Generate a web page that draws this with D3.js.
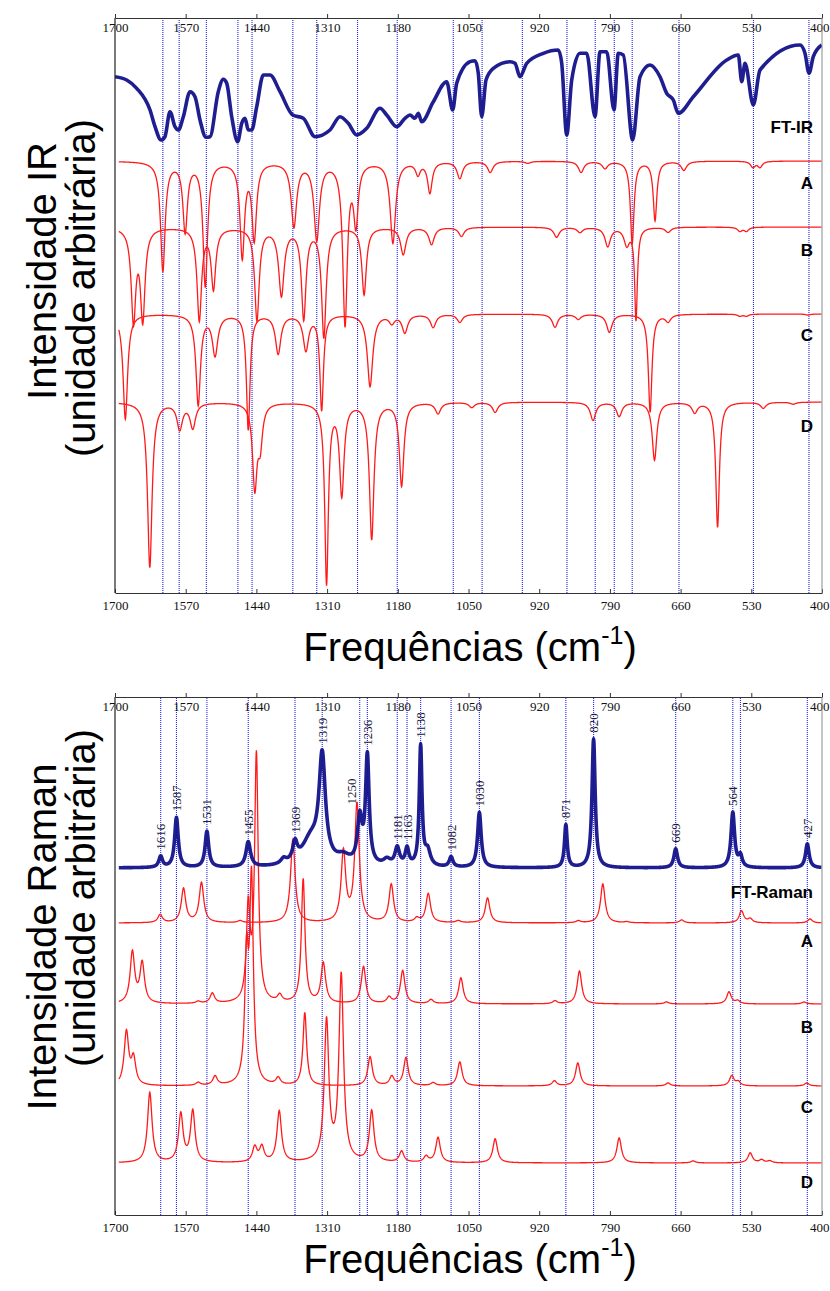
<!DOCTYPE html>
<html>
<head>
<meta charset="utf-8">
<script src="https://cdn.jsdelivr.net/npm/d3@7/dist/d3.min.js"></script>
<style>
  body { margin: 0; background: #fff; }
  svg { display: block; }
</style>
</head>
<body>
<div id="chart"></div>
<script>
// axis tick labels (cm-1), same on both panels
const tickValues = [1700, 1570, 1440, 1310, 1180, 1050, 920, 790, 660, 530, 400];

// FT-IR observed trace: [wavenumber, intensity]
const irObserved = [
  [1700, 516.3], [1678.5, 513], [1660.1, 504.7], [1635.6, 483], [1626.4, 466.3], [1615.4, 453],
  [1608.1, 456.3], [1598.9, 481.3], [1589.7, 466.3], [1583.6, 463], [1574.4, 476.3], [1562.1, 501.3],
  [1552.9, 496.3], [1543.7, 473], [1532.7, 455.7], [1525.3, 456.3], [1510.1, 501.3], [1500.9, 513.7],
  [1494.6, 509.7], [1485.4, 476.3], [1474.4, 451.3], [1467, 469.7], [1461, 474.7], [1454.9, 463],
  [1448.6, 463], [1439.4, 486.3], [1427.3, 518], [1415, 518], [1396.6, 501.3], [1373.3, 478],
  [1353.8, 474.7], [1332.2, 456.3], [1304.7, 463], [1286.3, 476.3], [1271, 469.7], [1255.6, 458],
  [1237.2, 464.7], [1212.7, 484.7], [1200.4, 478], [1182, 466.3], [1166.8, 474.7], [1157.6, 478],
  [1148.5, 474.7], [1142.3, 479.7], [1136.1, 471.3], [1114.7, 491.3], [1090.1, 511.3], [1079.1, 483],
  [1071.7, 509.7], [1047.2, 531.3], [1038, 532.3], [1032, 519.7], [1025.7, 476.3], [1017.8, 513],
  [1004.4, 524.7], [973.7, 531.3], [964.5, 529.7], [955.3, 516.3], [943, 529.7], [912.5, 539.7],
  [884.9, 543], [878.6, 529.7], [869.4, 458], [860.2, 513], [845, 539.7], [832.6, 539.7],
  [817.4, 476.3], [808.2, 541.3], [795.9, 541.3], [782.5, 483], [774.6, 539.7], [765.4, 538],
  [748.1, 453], [734.6, 516.3], [716.3, 528], [697.9, 516.3], [685.6, 499.7], [673.4, 493],
  [664.2, 479.7], [636.6, 496.3], [575.2, 533], [553.9, 538], [547.6, 511.3], [541.6, 529.7],
  [526.3, 488], [514, 523], [440.4, 548], [431.3, 539.7], [423.9, 519.7], [416, 536.3], [400.5, 548]
];

// calculated IR bands: [wavenumber, depth, half width]
const irA = [
  [1612, 109, 5], [1571, 69, 5], [1534, 124, 5], [1466, 94, 5], [1444, 76, 5], [1371, 64, 6],
  [1329, 77, 6], [1277, 161, 5], [1257, 59, 5], [1189, 81, 6], [1143, 12, 5], [1121, 31, 5],
  [1066, 17, 6], [1010, 11, 6], [941, 2, 6], [843, 11, 6], [799, 7, 6], [749, 82, 4],
  [707, 59, 4], [654, 9, 6], [527, 6, 5], [514, 6, 5]
];
const irB = [
  [1666, 92, 5], [1649, 90, 5], [1545, 92, 5], [1519, 60, 5], [1439, 92, 5], [1394, 67, 6],
  [1353, 90, 5], [1316, 109, 5], [1242, 67, 5], [1170, 27, 6], [1118, 17, 6], [1063, 9, 6],
  [888, 10, 6], [845, 5, 6], [794, 19, 6], [759, 17, 6], [742, 92, 3], [683, 5, 6],
  [551, 4, 5], [539, 4, 5]
];
const irC = [
  [1681, 105, 5], [1547, 90, 5], [1516, 40, 6], [1455, 115, 4], [1400, 39, 6], [1349, 35, 6],
  [1320, 95, 4], [1231, 72, 6], [1191, 8, 6], [1167, 18, 6], [1115, 13, 6], [1066, 8, 6],
  [891, 13, 6], [848, 5, 6], [791, 18, 6], [716, 98, 4], [683, 7, 6], [551, 2, 5],
  [539, 2, 5], [426, 1, 5]
];
const irD = [
  [1636, 165, 5], [1581, 26, 6], [1557, 25, 6], [1443, 83, 5], [1433, 38, 5], [1311, 180, 4],
  [1283, 91, 5], [1228, 136, 5], [1173, 83, 5], [1106, 11, 6], [1044, 5, 6], [1001, 10, 6],
  [821, 18, 6], [773, 14, 6], [708, 58, 5], [634, 10, 6], [592, 125, 4], [508, 6, 6],
  [453, 2, 6]
];
const irNames = ["A", "B", "C", "D"];
const irBaselines = [432, 366, 279, 191];

// reference lines on the IR panel
const irLines = [1612, 1582, 1532, 1474, 1448, 1373, 1329, 1254, 1181, 1078, 1025, 951, 869, 817, 782, 749, 663, 526, 424];

// FT-Raman observed bands: [wavenumber, height, half width]
const ramanObserved = [
  [1616, 11, 4], [1587, 50, 4], [1531, 36, 4], [1455, 25, 5], [1390, 5, 6], [1369, 18, 5],
  [1340, 26, 20], [1319, 104, 7], [1280, 8, 15], [1250, 45, 5], [1236, 108, 4], [1200, 6, 8],
  [1181, 18, 5], [1163, 17, 4], [1138, 120, 3], [1125, 15, 6], [1082, 10, 4], [1030, 55, 4],
  [871, 43, 3], [820, 129, 3.5], [669, 19, 4], [564, 55, 4], [550, 11, 4], [427, 24, 4]
];
const ramanBaseline = 347;
const ramanLabels = [1616, 1587, 1531, 1455, 1369, 1319, 1250, 1236, 1181, 1163, 1138, 1082, 1030, 871, 820, 669, 564, 427];
const ramanLines = [1616, 1587, 1531, 1455, 1369, 1319, 1250, 1236, 1181, 1163, 1138, 1082, 1030, 871, 820, 669, 564, 550, 427];

// calculated Raman bands: [wavenumber, height, half width]
const ramanA = [
  [1617, 8, 5], [1574, 34, 5], [1541, 40, 5], [1470, 2, 5], [1373, 83, 5], [1280, 70, 5],
  [1255, 118, 5], [1192, 38, 5], [1145, 4, 5], [1124, 29, 5], [1069, 2, 5], [1015, 25, 5],
  [848, 2, 5], [803, 39, 5], [759, 1, 5], [658, 3, 5], [548, 12, 5], [532, 4, 5], [422, 4, 5]
];
const ramanB = [
  [1668, 51, 5], [1650, 40, 5], [1547, 2, 5], [1521, 10, 5], [1455, 91, 4], [1440, 247, 4],
  [1397, 7, 5], [1354, 124, 4], [1317, 40, 5], [1243, 37, 5], [1196, 6, 5], [1171, 33, 5],
  [1119, 4, 5], [1064, 26, 5], [891, 3, 5], [846, 33, 5], [686, 2, 5], [571, 12, 5],
  [555, 3, 5], [433, 2, 5]
];
const ramanC = [
  [1679, 53, 5], [1666, 26, 5], [1547, 3, 5], [1516, 9, 5], [1458, 120, 4], [1449, 200, 4],
  [1400, 7, 5], [1351, 73, 4], [1231, 29, 5], [1191, 9, 5], [1165, 28, 5], [1115, 3, 5],
  [1066, 24, 5], [892, 5, 5], [849, 23, 5], [683, 3, 5], [566, 10, 5], [554, 4, 5], [428, 3, 5]
];
const ramanD = [
  [1636, 70, 5], [1579, 48, 5], [1557, 51, 5], [1443, 15, 5], [1430, 15, 5], [1398, 51, 5],
  [1311, 140, 5], [1284, 186, 5], [1228, 51, 5], [1173, 11, 5], [1128, 6, 5], [1106, 25, 5],
  [1001, 24, 5], [773, 25, 5], [637, 2, 5], [532, 10, 5], [511, 3, 5], [496, 2, 5]
];
const ramanNames = ["A", "B", "C", "D"];
const ramanBaselines = [292, 211, 129, 52];

// ---------------------------------------------------------------

const width = 830, height = 1291;
const svg = d3.select("#chart").append("svg")
  .attr("width", width).attr("height", height);

const x = d3.scaleLinear().domain([1700, 400]).range([115, 822]);

// builds a trace from a band list (sign -1 = absorption dips)
function bandTrace(bands, base, sign) {
  const pts = [];
  for (let w = 1693; w >= 401; w -= 0.5) {
    let s = 0;
    bands.forEach(function(b) {
      const d = (w - b[0]) / b[2];
      s += b[1] / (1 + d * d);
    });
    pts.push([w, base + sign * s]);
  }
  return pts;
}

function drawPanel(cfg) {
  const y = d3.scaleLinear().domain([0, cfg.bottom - cfg.top]).range([cfg.bottom, cfg.top]);
  const g = svg.append("g");

  // clip
  const clipId = "clip" + cfg.id;
  svg.append("clipPath").attr("id", clipId).append("rect")
    .attr("x", 115).attr("y", cfg.axisTop).attr("width", 707).attr("height", cfg.bottom - cfg.axisTop);

  // dotted reference lines (dots kept on even rows)
  g.selectAll("line.ref").data(cfg.lines).enter().append("line")
    .attr("class", "ref")
    .attr("x1", d => x(d)).attr("x2", d => x(d))
    .attr("y1", cfg.axisTop + (cfg.axisTop % 2)).attr("y2", cfg.bottom)
    .style("stroke", "#2424ff").style("stroke-width", 1.1)
    .style("stroke-dasharray", "1,1");

  const line = d3.line().x(d => x(d[0])).y(d => y(d[1]));
  const plot = g.append("g").attr("clip-path", `url(#${clipId})`);

  // calculated traces
  cfg.calc.forEach(function(c) {
    plot.append("path")
      .attr("d", line(bandTrace(c.bands, c.base, cfg.sign)))
      .attr("fill", "none").attr("stroke", "#ff1a1a").attr("stroke-width", 1.3);
  });

  // observed trace
  plot.append("path")
    .attr("d", d3.line().x(d => x(d[0])).y(d => y(d[1])).curve(d3.curveMonotoneX)(cfg.observed))
    .attr("fill", "none").attr("stroke", "#12128a").attr("stroke-width", 3.6)
    .attr("stroke-linejoin", "round").attr("opacity", 0.95);

  // axes
  const axis = d3.axisBottom(x).tickValues(tickValues).tickFormat(d3.format("d"))
    .tickSizeInner(-4).tickSizeOuter(0).tickPadding(7);
  [cfg.axisTop, cfg.bottom].forEach(function(ay, i) {
    const a = g.append("g").attr("transform", `translate(0,${ay})`).call(axis);
    a.select(".domain").attr("stroke", "#333");
    a.selectAll(".tick line").attr("stroke", "#333");
    a.selectAll("text").attr("font-family", "'Liberation Serif', serif")
      .attr("font-size", 13).attr("fill", "#111")
      .attr("dy", i === 0 ? "0.55em" : "0.75em");
    // last label sits against the right edge
    a.selectAll(".tick text").filter(d => d === 400)
      .attr("text-anchor", "end").attr("x", 7);
  });
  g.append("line").attr("x1", 115).attr("x2", 115).attr("y1", cfg.axisTop).attr("y2", cfg.bottom)
    .attr("stroke", "#222").attr("stroke-width", 1.2);
  g.append("line").attr("x1", 822).attr("x2", 822).attr("y1", cfg.axisTop).attr("y2", cfg.bottom)
    .attr("stroke", "#888").attr("stroke-width", 1);

  // trace names
  cfg.names.forEach(function(n) {
    g.append("text").attr("x", 813).attr("y", n.y).attr("text-anchor", "end")
      .attr("font-family", "'Liberation Sans', Arial, sans-serif").attr("font-weight", "bold")
      .attr("font-size", 17).attr("fill", "#000").text(n.text);
  });

  // axis titles
  const title = g.append("text").attr("x", 470).attr("y", cfg.titleY)
    .attr("text-anchor", "middle").attr("font-family", "'Liberation Sans', Arial, sans-serif")
    .attr("font-size", 40).attr("fill", "#000");
  title.append("tspan").text("Frequências (cm");
  title.append("tspan").attr("font-size", 25).attr("dy", -17).text("-1");
  title.append("tspan").attr("dy", 17).text(")");

  cfg.ytitle.forEach(function(t, i) {
    g.append("text")
      .attr("transform", `translate(${56 + i * 39},${cfg.ytitleMid[i]}) rotate(-90)`)
      .attr("text-anchor", "middle").attr("font-family", "'Liberation Sans', Arial, sans-serif")
      .attr("font-size", 40).attr("fill", "#000").text(t);
  });

  return y;
}

drawPanel({
  id: "ir", axisTop: 18, top: 33, bottom: 593, sign: -1, titleY: 661,
  lines: irLines, observed: irObserved,
  calc: irNames.map((n, i) => ({ bands: [irA, irB, irC, irD][i], base: irBaselines[i] })),
  names: [{ text: "FT-IR", y: 133 }, { text: "A", y: 189 }, { text: "B", y: 256 }, { text: "C", y: 341 }, { text: "D", y: 432 }],
  ytitle: ["Intensidade IR", "(unidade arbitrária)"], ytitleMid: [271, 288]
});

const ramanTrace = bandTrace(ramanObserved, ramanBaseline, 1);
const yR = drawPanel({
  id: "raman", axisTop: 697, top: 697, bottom: 1215, sign: 1, titleY: 1273,
  lines: ramanLines, observed: ramanTrace,
  calc: ramanNames.map((n, i) => ({ bands: [ramanA, ramanB, ramanC, ramanD][i], base: ramanBaselines[i] })),
  names: [{ text: "FT-Raman", y: 898 }, { text: "A", y: 947 }, { text: "B", y: 1033 }, { text: "C", y: 1113 }, { text: "D", y: 1188 }],
  ytitle: ["Intensidade Raman", "(unidade arbitrária)"], ytitleMid: [937, 898]
});

// peak labels on the FT-Raman trace
const nudge = { 1250: -8 };
ramanLabels.forEach(function(wn) {
  let s = ramanBaseline;
  ramanObserved.forEach(function(b) {
    const d = (wn - b[0]) / b[2];
    s += b[1] / (1 + d * d);
  });
  const px = x(wn) + (nudge[wn] || 0);
  const py = yR(s) - 6;
  svg.append("text")
    .attr("transform", `translate(${px},${py}) rotate(-90)`)
    .attr("dy", "0.35em")
    .attr("font-family", "'Liberation Serif', serif").attr("font-size", 13)
    .attr("fill", "#1a1a3a").text(wn);
});
</script>
</body>
</html>
